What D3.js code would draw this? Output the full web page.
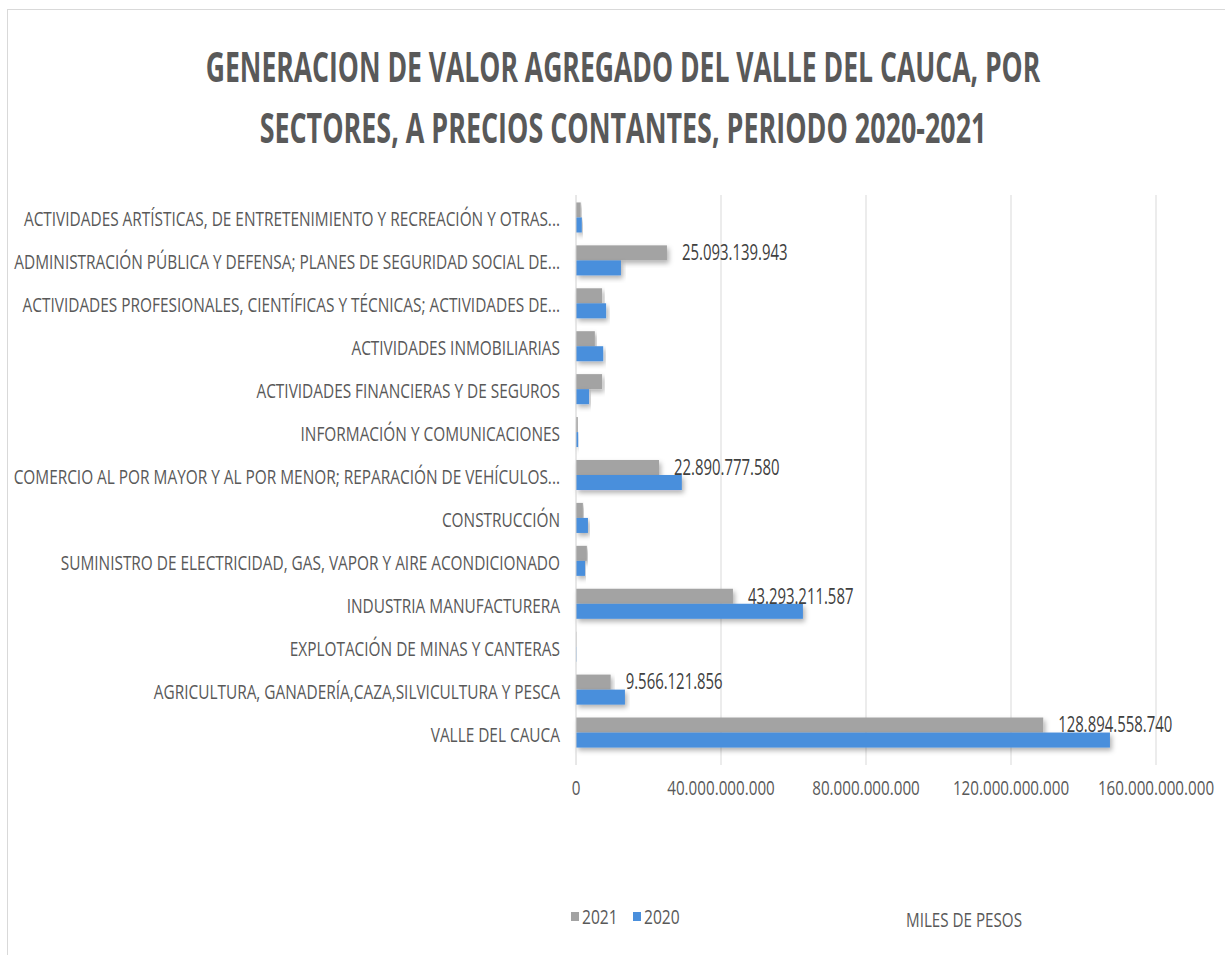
<!DOCTYPE html>
<meta charset="UTF-8">

<head>
    <script src="https://d3js.org/d3.v7.min.js"></script>
    <style>
        body {
            margin: 0;
            background: #fff;
        }

        text {
            font-family: "Open Sans", "Liberation Sans", sans-serif;
            fill: #595959;
        }

        .grid line {
            stroke: #d9d9d9;
            stroke-width: 1px;
        }
    </style>
</head>

<body>

    <script>
        // categories, top to bottom as they appear in the chart
        var categories = [
            "ACTIVIDADES ARTÍSTICAS, DE ENTRETENIMIENTO Y RECREACIÓN Y OTRAS...",
            "ADMINISTRACIÓN PÚBLICA Y DEFENSA; PLANES DE SEGURIDAD SOCIAL DE...",
            "ACTIVIDADES PROFESIONALES, CIENTÍFICAS Y TÉCNICAS; ACTIVIDADES DE...",
            "ACTIVIDADES INMOBILIARIAS",
            "ACTIVIDADES FINANCIERAS Y DE SEGUROS",
            "INFORMACIÓN Y COMUNICACIONES",
            "COMERCIO AL POR MAYOR Y AL POR MENOR; REPARACIÓN DE VEHÍCULOS...",
            "CONSTRUCCIÓN",
            "SUMINISTRO DE ELECTRICIDAD, GAS, VAPOR Y AIRE ACONDICIONADO",
            "INDUSTRIA MANUFACTURERA",
            "EXPLOTACIÓN DE MINAS Y CANTERAS",
            "AGRICULTURA, GANADERÍA,CAZA,SILVICULTURA Y PESCA",
            "VALLE DEL CAUCA"
        ];

        // miles de pesos
        var values2021 = [1.3e9, 25093139943, 7.2e9, 5.2e9, 7.2e9, 0.5e9, 22890777580,
            1.9e9, 3.0e9, 43293211587, 0.1e9, 9566121856, 128894558740];
        var values2020 = [1.6e9, 12.4e9, 8.3e9, 7.5e9, 3.6e9, 0.6e9, 29.2e9,
            3.3e9, 2.5e9, 62.6e9, 0.1e9, 13.5e9, 147.3e9];

        // only these rows carry a value label (2021 series)
        var labeled = [
            "ADMINISTRACIÓN PÚBLICA Y DEFENSA; PLANES DE SEGURIDAD SOCIAL DE...",
            "COMERCIO AL POR MAYOR Y AL POR MENOR; REPARACIÓN DE VEHÍCULOS...",
            "INDUSTRIA MANUFACTURERA",
            "AGRICULTURA, GANADERÍA,CAZA,SILVICULTURA Y PESCA",
            "VALLE DEL CAUCA"
        ];

        var xTicks = [0, 40e9, 80e9, 120e9, 160e9];
        var seriesNames = ["2021", "2020"];
        var colors = { "2021": "#a3a3a3", "2020": "#4a8fdc" };

        var width = 1225,
            height = 955;

        var locale = d3.formatLocale({ decimal: ",", thousands: ".", grouping: [3], currency: ["$", ""] });
        var fmt = locale.format(",");

        var svg = d3
            .select("body")
            .append("svg")
            .attr("width", width)
            .attr("height", height);

        // drop shadow for the bars
        var shadow = svg.append("defs")
            .append("filter")
            .attr("id", "shadow")
            .attr("x", "-5%")
            .attr("y", "-30%")
            .attr("width", "115%")
            .attr("height", "180%");
        shadow.append("feDropShadow")
            .attr("dx", 2)
            .attr("dy", 3)
            .attr("stdDeviation", 2.5)
            .attr("flood-color", "#000")
            .attr("flood-opacity", 0.3);

        // chart frame
        svg.append("rect")
            .attr("x", 7.5)
            .attr("y", 9.5)
            .attr("width", width + 20)
            .attr("height", height + 20)
            .attr("fill", "none")
            .attr("stroke", "#d9d9d9");

        // helper: place a text and squeeze it horizontally
        function squeeze(sel, sx) {
            sel.attr("transform", function () {
                var t = d3.select(this);
                return "translate(" + t.attr("data-x") + "," + t.attr("data-y") + ") scale(" + sx + ",1)";
            });
        }

        // title, condensed to the reference widths
        var titleLines = [
            { text: "GENERACION DE VALOR AGREGADO DEL VALLE DEL CAUCA, POR", y: 82, w: 835 },
            { text: "SECTORES, A PRECIOS CONTANTES, PERIODO 2020-2021", y: 143, w: 727 }
        ];
        svg.selectAll("text.title")
            .data(titleLines)
            .enter()
            .append("text")
            .attr("class", "title")
            .attr("text-anchor", "middle")
            .style("font-size", "41px")
            .style("font-weight", "bold")
            .text(function (d) { return d.text; })
            .attr("transform", function (d) {
                var sx = d.w / this.getComputedTextLength();
                return "translate(623," + d.y + ") scale(" + sx + ",1)";
            });

        // scales
        var x = d3.scaleLinear()
            .domain([0, 160e9])
            .range([576, 1156]);

        var y = d3.scaleBand()
            .domain(categories)
            .range([196, 754])
            .paddingInner(0.3)
            .paddingOuter(0.15);

        var ySub = d3.scaleBand()
            .domain(seriesNames)
            .range([0, y.bandwidth()]);

        // vertical gridlines
        svg.append("g")
            .attr("class", "grid")
            .selectAll("line")
            .data(xTicks.slice(1))
            .enter()
            .append("line")
            .attr("x1", function (d) { return x(d); })
            .attr("x2", function (d) { return x(d); })
            .attr("y1", 195)
            .attr("y2", 765);

        // bars
        var rows = categories.map(function (c, i) {
            return { cat: c, "2021": values2021[i], "2020": values2020[i] };
        });

        var rowG = svg.selectAll("g.row")
            .data(rows)
            .enter()
            .append("g")
            .attr("class", "row")
            .attr("transform", function (d) { return "translate(0," + y(d.cat) + ")"; });

        rowG.selectAll("rect")
            .data(function (d) {
                return seriesNames.map(function (s) { return { s: s, v: d[s] }; });
            })
            .enter()
            .append("rect")
            .attr("x", x(0))
            .attr("y", function (d) { return ySub(d.s); })
            .attr("width", function (d) { return x(d.v) - x(0); })
            .attr("height", ySub.bandwidth())
            .attr("fill", function (d) { return colors[d.s]; })
            .attr("filter", "url(#shadow)");

        // axis line at zero
        svg.append("line")
            .attr("x1", x(0))
            .attr("x2", x(0))
            .attr("y1", 195)
            .attr("y2", 765)
            .attr("stroke", "#d0d0d0");

        // category labels
        svg.selectAll("text.cat")
            .data(categories)
            .enter()
            .append("text")
            .attr("class", "cat")
            .attr("text-anchor", "end")
            .attr("dy", "0.35em")
            .attr("data-x", 560)
            .attr("data-y", function (d) { return y(d) + y.bandwidth() / 2 + 2; })
            .style("font-size", "20px")
            .text(function (d) { return d; })
            .call(squeeze, 0.77);

        // value labels for the 2021 series
        svg.selectAll("text.val")
            .data(rows.filter(function (d) { return labeled.indexOf(d.cat) >= 0; }))
            .enter()
            .append("text")
            .attr("class", "val")
            .attr("dy", "0.35em")
            .attr("data-x", function (d) { return x(d["2021"]) + 15; })
            .attr("data-y", function (d) { return y(d.cat) + ySub("2021") + ySub.bandwidth() / 2; })
            .style("font-size", "21px")
            .style("fill", "#404040")
            .text(function (d) { return fmt(d["2021"]); })
            .call(squeeze, 0.71);

        // x tick labels
        svg.selectAll("text.tick")
            .data(xTicks)
            .enter()
            .append("text")
            .attr("class", "tick")
            .attr("text-anchor", "middle")
            .attr("dy", "0.35em")
            .attr("data-x", function (d) { return x(d); })
            .attr("data-y", 788)
            .style("font-size", "20px")
            .text(function (d) { return fmt(d); })
            .call(squeeze, 0.76);

        // legend
        var legendX = [571, 633];
        var legend = svg.selectAll("g.legend")
            .data(seriesNames)
            .enter()
            .append("g")
            .attr("class", "legend");

        legend.append("rect")
            .attr("x", function (d, i) { return legendX[i]; })
            .attr("y", 912)
            .attr("width", 8)
            .attr("height", 9)
            .attr("fill", function (d) { return colors[d]; });

        legend.append("text")
            .attr("dy", "0.35em")
            .attr("data-x", function (d, i) { return legendX[i] + 11; })
            .attr("data-y", 917)
            .style("font-size", "20px")
            .text(function (d) { return d; })
            .call(squeeze, 0.78);

        // units note
        svg.append("text")
            .attr("text-anchor", "middle")
            .attr("dy", "0.35em")
            .attr("data-x", 964)
            .attr("data-y", 920)
            .style("font-size", "20px")
            .text("MILES DE PESOS")
            .call(squeeze, 0.76);
    </script>

</body>
